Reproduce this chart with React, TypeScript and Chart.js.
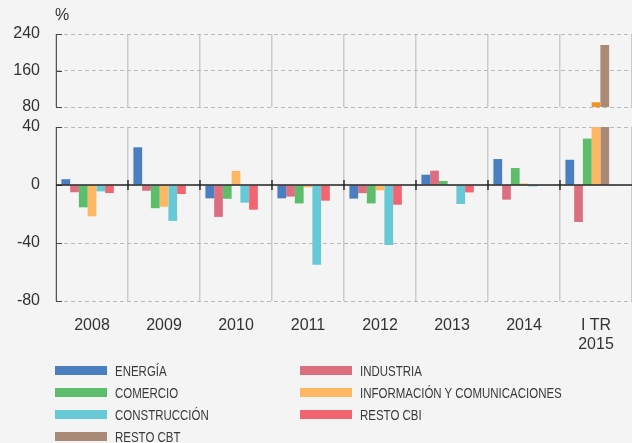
import React, { useEffect, useRef } from 'react';
import { Chart, registerables } from 'chart.js';
Chart.register(...registerables);

const categories: (string | string[])[] = ['2008', '2009', '2010', '2011', '2012', '2013', '2014', ['I TR', '2015']];
const seriesNames = ['ENERGÍA', 'INDUSTRIA', 'COMERCIO', 'INFORMACIÓN Y COMUNICACIONES', 'CONSTRUCCIÓN', 'RESTO CBI', 'RESTO CBT'];
const energia = [4, 26, -9.2, -9.2, -9.4, 7.1, 17.9, 17.4];
const industria = [-5, -4, -22, -8, -5.6, 9.9, -10.1, -25.5];
const comercio = [-15.4, -16, -9.5, -12.7, -12.7, 2.8, 11.7, 32];
const informacion = [-21.6, -15, 9.7, -1.6, -3.7, 0.5, 1, 90.3];
const construccion = [-4.4, -24.8, -12.2, -55, -41.4, -13.1, -1, null];
const restoCbi = [-5.5, -6.2, -17, -10.8, -13.6, -5.1, null, null];
const restoCbt = [null, null, null, null, null, null, null, 215.8];
const seriesValues = [energia, industria, comercio, informacion, construccion, restoCbi, restoCbt];
const seriesColors = ['#4a7ec1', '#dc6f7f', '#5dbd6a', '#feb863', '#67c9d6', '#f2646f', '#ab8a75'];
const topColors = ['#4a7ec1', '#dc6f7f', '#5dbd6a', '#f39322', '#67c9d6', '#f2646f', '#ab8a75'];
// slot (group) for each series; RESTO CBT shares the CONSTRUCCIÓN slot
const seriesSlots = ['s0', 's1', 's2', 's3', 's4', 's5', 's4'];
const topRange = { min: 80, max: 240, step: 80 };
const bottomRange = { min: -80, max: 40, step: 40 };

const FONT = "'Liberation Sans', Arial, sans-serif";
const TEXT = '#333333';

function makeDatasets(colors: string[]) {
  const ds: any[] = seriesNames.map((name, i) => ({
    label: name,
    data: seriesValues[i],
    backgroundColor: colors[i],
    borderWidth: 0,
    stack: seriesSlots[i],
    categoryPercentage: 0.85,
    barPercentage: 1.0,
  }));
  ds.push({
    label: '',
    data: categories.map(() => null),
    stack: 's6',
    categoryPercentage: 0.85,
    barPercentage: 1.0,
  });
  return ds;
}

function marksPlugin(drawZero: boolean, drawPct: boolean) {
  return {
    id: 'marks',
    afterDatasetsDraw(chart: any) {
      const { ctx, chartArea, scales } = chart;
      const y = scales.y;
      const x = scales.x;
      ctx.save();
      ctx.strokeStyle = '#444';
      ctx.lineWidth = 1;
      y.ticks.forEach((_t: any, i: number) => {
        const py = Math.round(y.getPixelForTick(i)) + 0.5;
        ctx.beginPath();
        ctx.moveTo(chartArea.left, py);
        ctx.lineTo(chartArea.left + 6, py);
        ctx.stroke();
      });
      if (drawZero) {
        const py0 = y.getPixelForValue(0);
        ctx.strokeStyle = '#222';
        ctx.lineWidth = 1.6;
        ctx.beginPath();
        ctx.moveTo(chartArea.left, py0);
        ctx.lineTo(chartArea.right, py0);
        ctx.stroke();
        ctx.lineWidth = 1.4;
        for (let i = 1; i < categories.length; i++) {
          const px = (x.getPixelForValue(i - 1) + x.getPixelForValue(i)) / 2;
          ctx.beginPath();
          ctx.moveTo(px, py0 - 5);
          ctx.lineTo(px, py0 + 5);
          ctx.stroke();
        }
      }
      if (drawPct) {
        ctx.fillStyle = TEXT;
        ctx.font = `16px ${FONT}`;
        ctx.textBaseline = 'middle';
        ctx.textAlign = 'left';
        ctx.fillText('%', chartArea.left - 1, 16);
      }
      ctx.restore();
    },
  };
}

function makeOptions(range: { min: number; max: number; step: number }, showLabels: boolean, padTop: number, xHeight: number) {
  return {
    responsive: false,
    animation: false as const,
    layout: { padding: { top: padTop, left: 0, right: 0, bottom: 0 } },
    plugins: { legend: { display: false }, tooltip: { enabled: false }, title: { display: false } },
    scales: {
      x: {
        type: 'category' as const,
        offset: true,
        grid: { display: true, offset: true, color: '#cbcbcb', lineWidth: 1.5, drawTicks: false },
        border: { display: false },
        ticks: { display: showLabels, color: TEXT, font: { family: FONT, size: 16 }, padding: 15, maxRotation: 0, autoSkip: false },
        afterFit: (s: any) => {
          s.height = xHeight;
        },
      },
      y: {
        min: range.min,
        max: range.max,
        grid: {
          color: (c: any) => (c.tick && c.tick.value === 0 ? 'rgba(0,0,0,0)' : '#b9b9b9'),
          lineWidth: 1,
          drawTicks: false,
        },
        border: { display: true, color: '#555', width: 1, dash: [4, 3] },
        ticks: { stepSize: range.step, color: TEXT, font: { family: FONT, size: 16 }, padding: 16 },
        afterFit: (s: any) => {
          s.width = 56;
          s.paddingTop = 0;
          s.paddingBottom = 0;
        },
      },
    },
  };
}

export default function App() {
  const topRef = useRef<HTMLCanvasElement>(null);
  const botRef = useRef<HTMLCanvasElement>(null);

  useEffect(() => {
    document.body.style.margin = '0';
    document.body.style.background = '#f3f4f3';
    const top = new Chart(topRef.current!, {
      type: 'bar',
      data: { labels: categories, datasets: makeDatasets(topColors) },
      options: makeOptions(topRange, false, 34, 13) as any,
      plugins: [marksPlugin(false, true)],
    });
    const bot = new Chart(botRef.current!, {
      type: 'bar',
      data: { labels: categories, datasets: makeDatasets(seriesColors) },
      options: makeOptions(bottomRange, true, 15, 61) as any,
      plugins: [marksPlugin(true, false)],
    });
    return () => {
      top.destroy();
      bot.destroy();
    };
  }, []);

  const legendItems = seriesNames.map((n, i) => ({ name: n, color: seriesColors[i] }));

  return (
    <div style={{ position: 'relative', width: 632, height: 443, background: '#f3f4f3', overflow: 'hidden' }}>
      <canvas ref={botRef} width={632} height={250} style={{ position: 'absolute', left: 0, top: 112 }} />
      <canvas ref={topRef} width={632} height={120} style={{ position: 'absolute', left: 0, top: 0 }} />
      {legendItems.map((it, i) => {
        const col = i % 2;
        const row = Math.floor(i / 2);
        const left = col === 0 ? 55 : 300;
        const cy = 370 + row * 22;
        return (
          <div key={it.name} style={{ position: 'absolute', left, top: cy - 9, height: 18, display: 'flex', alignItems: 'center', whiteSpace: 'nowrap' }}>
            <span style={{ display: 'inline-block', width: 52, height: 9, background: it.color, marginRight: 8 }} />
            <span style={{ fontFamily: FONT, fontSize: 14, lineHeight: '18px', color: '#3a3a3a', display: 'inline-block', transform: 'scaleX(0.82) translateY(1px)', transformOrigin: 'left center' }}>{it.name}</span>
          </div>
        );
      })}
    </div>
  );
}
